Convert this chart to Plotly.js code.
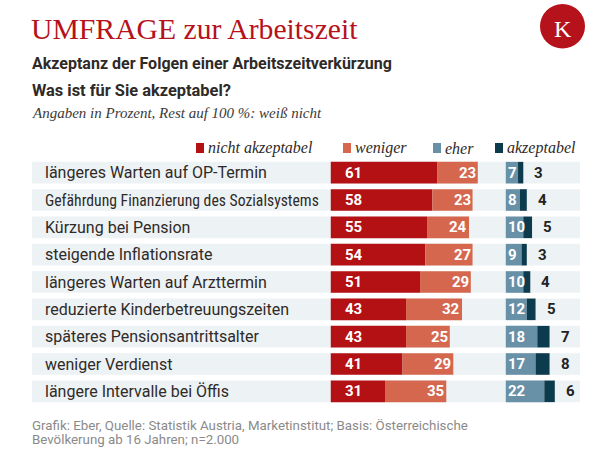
<!DOCTYPE html>
<html>
<head>
<meta charset="utf-8">
<script src="https://cdn.plot.ly/plotly-3.0.1.min.js"></script>
<style>html,body{margin:0;padding:0;background:#fff;}#chart{width:616px;height:458px;}</style>
</head>
<body>
<div id="chart"></div>
<script>
const categories = [
  "längeres Warten auf OP-Termin",
  "Gefährdung Finanzierung des Sozialsystems",
  "Kürzung bei Pension",
  "steigende Inflationsrate",
  "längeres Warten auf Arzttermin",
  "reduzierte Kinderbetreuungszeiten",
  "späteres Pensionsantrittsalter",
  "weniger Verdienst",
  "längere Intervalle bei Öffis"
];
const nichtAkzeptabel = [61, 58, 55, 54, 51, 43, 43, 41, 31];
const weniger = [23, 23, 24, 27, 29, 32, 25, 29, 35];
const eher = [7, 8, 10, 9, 10, 12, 18, 17, 22];
const akzeptabel = [3, 4, 5, 3, 4, 5, 7, 8, 6];
const seriesNames = ["nicht akzeptabel", "weniger", "eher", "akzeptabel"];

const colors = ["#b31114", "#d5674f", "#6890a7", "#0c3b4e"];
const SANS = "Roboto, 'Noto Sans', sans-serif";
const COND = "'Roboto Condensed', 'Liberation Sans Narrow', 'DejaVu Sans Condensed', Roboto, sans-serif";
const SERIF = "'Liberation Serif', 'DejaVu Serif', serif";
const TXT = "#2f2a27";

// geometry of plot area (pixels)
const L = 32, R = 36, T = 159, B = 53, W = 616 - L - R, H = 458 - T - B;
const px = x => (x - L) / W;
const py = y => (458 - B - y) / H;
const OFFSET = 100; // second block starts at 100 units

const baseWeniger = nichtAkzeptabel.slice();
const baseEher = eher.map(() => OFFSET);
const baseAkz = eher.map(v => OFFSET + v);

const traces = [
  {type: 'bar', orientation: 'h', y: categories, x: nichtAkzeptabel, base: 0, marker: {color: colors[0]}, name: seriesNames[0], hoverinfo: 'skip'},
  {type: 'bar', orientation: 'h', y: categories, x: weniger, base: baseWeniger, marker: {color: colors[1]}, name: seriesNames[1], hoverinfo: 'skip'},
  {type: 'bar', orientation: 'h', y: categories, x: eher, base: baseEher, marker: {color: colors[2]}, name: seriesNames[2], hoverinfo: 'skip'},
  {type: 'bar', orientation: 'h', y: categories, x: akzeptabel, base: baseAkz, marker: {color: colors[3]}, name: seriesNames[3], hoverinfo: 'skip'}
];

const shapes = [];
const annotations = [];
const half = 0.395;
categories.forEach((c, i) => {
  shapes.push({type: 'rect', xref: 'paper', yref: 'y', x0: 0, x1: 1, y0: i - half, y1: i + half,
    fillcolor: '#edf2f5', line: {width: 0}, layer: 'below'});
  const isLong = c.length > 35;
  annotations.push({xref: 'paper', yref: 'y', x: 0, y: c, xanchor: 'left', yanchor: 'middle', xshift: 11,
    text: c, showarrow: false, font: {family: isLong ? COND : SANS, size: isLong ? 15.7 : 16, color: TXT}});
  const numFont = {family: SANS, size: 15, color: '#ffffff', weight: 700};
  annotations.push({xref: 'x', yref: 'y', x: 0, y: c, xanchor: 'left', xshift: 12, text: String(nichtAkzeptabel[i]), showarrow: false, font: numFont});
  annotations.push({xref: 'x', yref: 'y', x: nichtAkzeptabel[i] + weniger[i], y: c, xanchor: 'right', xshift: 0, text: String(weniger[i]), showarrow: false, font: numFont});
  annotations.push({xref: 'x', yref: 'y', x: OFFSET, y: c, xanchor: 'left', xshift: 0, text: String(eher[i]), showarrow: false, font: numFont});
  annotations.push({xref: 'x', yref: 'y', x: OFFSET + eher[i] + akzeptabel[i], y: c, xanchor: 'left', xshift: 9, text: String(akzeptabel[i]), showarrow: false,
    font: {family: SANS, size: 15, color: '#222222', weight: 700}});
});

// legend
const legendX = [196, 343, 433, 495];
seriesNames.forEach((n, k) => {
  shapes.push({type: 'rect', xref: 'paper', yref: 'paper', x0: px(legendX[k]), x1: px(legendX[k] + 8), y0: py(153), y1: py(143),
    fillcolor: colors[k], line: {width: 0}});
  annotations.push({xref: 'paper', yref: 'paper', x: px(legendX[k] + 10), y: py(148), xanchor: 'left', yanchor: 'middle',
    text: n, showarrow: false, font: {family: SERIF, size: 16, style: 'italic', color: TXT}});
});

// header texts
annotations.push({xref: 'paper', yref: 'paper', x: px(30), y: py(64), xanchor: 'left', yanchor: 'middle', showarrow: false,
  text: "Akzeptanz der Folgen einer Arbeitszeitverkürzung", font: {family: SANS, size: 16, weight: 700, color: TXT}});
annotations.push({xref: 'paper', yref: 'paper', x: px(30), y: py(90.5), xanchor: 'left', yanchor: 'middle', showarrow: false,
  text: "Was ist für Sie akzeptabel?", font: {family: SANS, size: 16.4, weight: 700, color: TXT}});
annotations.push({xref: 'paper', yref: 'paper', x: px(30), y: py(112.5), xanchor: 'left', yanchor: 'middle', showarrow: false,
  text: "Angaben in Prozent, Rest auf 100 %: weiß nicht", font: {family: SERIF, size: 15, style: 'italic', color: '#3a3a3a'}});
// footer
annotations.push({xref: 'paper', yref: 'paper', x: px(30), y: py(425), xanchor: 'left', yanchor: 'middle', showarrow: false,
  text: "Grafik: Eber, Quelle: Statistik Austria, Marketinstitut; Basis: Österreichische", font: {family: SANS, size: 13.3, color: '#8a8a8a'}});
annotations.push({xref: 'paper', yref: 'paper', x: px(30), y: py(439), xanchor: 'left', yanchor: 'middle', showarrow: false,
  text: "Bevölkerung ab 16 Jahren; n=2.000", font: {family: SANS, size: 13.3, color: '#8a8a8a'}});
// logo
shapes.push({type: 'circle', xref: 'paper', yref: 'paper', x0: px(540), x1: px(585), y0: py(48.5), y1: py(4),
  fillcolor: '#b5121b', line: {width: 0}});
annotations.push({xref: 'paper', yref: 'paper', x: px(562.5), y: py(28.5), xanchor: 'center', yanchor: 'middle', showarrow: false,
  text: "K", font: {family: SERIF, size: 24, color: '#ffffff'}});

const layout = {
  width: 616, height: 458,
  margin: {l: L, r: R, t: T, b: B, pad: 0},
  paper_bgcolor: '#ffffff', plot_bgcolor: 'rgba(0,0,0,0)',
  title: {text: "UMFRAGE zur Arbeitszeit", xref: 'container', yref: 'container', x: 31 / 616, xanchor: 'left',
    y: 1 - 28.5 / 458, yanchor: 'middle', font: {family: SERIF, size: 29.7, color: '#b5121b'}},
  barmode: 'overlay', bargap: 0.21,
  showlegend: false,
  xaxis: {range: [-170.7, 142.4], visible: false, fixedrange: true},
  yaxis: {type: 'category', range: [8.5, -0.5], visible: false, fixedrange: true},
  shapes: shapes, annotations: annotations
};

Plotly.newPlot('chart', traces, layout, {displayModeBar: false, staticPlot: true});
</script>
</body>
</html>
